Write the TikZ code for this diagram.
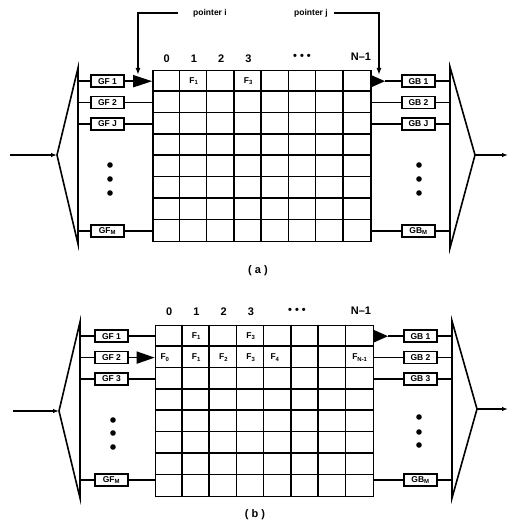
\documentclass[tikz,border=0pt]{standalone}
\usepackage{fontspec}
\setmainfont{Liberation Sans}
\usetikzlibrary{arrows.meta, positioning, calc}

\begin{document}
\begin{tikzpicture}[x=1pt, y=1pt,
        every node/.style={font=\bfseries\fontsize{8.5}{9}\selectfont},
        gbox/.style={rectangle, draw, line width=1.5pt, minimum width=33, minimum height=12, inner sep=0pt},
        slab/.style={font=\bfseries\fontsize{8.5}{9}\selectfont, inner sep=0pt},
        clab/.style={font=\bfseries\fontsize{11}{12}\selectfont, inner sep=0pt},
        memgrid/.style={rectangle, draw, line width=1.6pt, minimum width=218, minimum height=171, inner sep=0pt},
        cellline/.style={line width=1.5pt},
        link/.style={line width=1.6pt},
        arr/.style={-{Latex[length=6pt, width=4.5pt]}, line width=1.4pt},
        bigarr/.style={-{Triangle[length=#1, width=12pt]}, line width=1.6pt},
        bigarr/.default=19pt,
        ptr/.style={-{Latex[length=7pt, width=5pt]}, line width=1.5pt}
    ]
        \useasboundingbox (0,0) rectangle (517,524);

        % ---------- (a) ----------
        \node[memgrid] (ga) at (262,368) {};
        \foreach \k in {1,...,7} {
            \draw[cellline] ($(ga.north west)+(\k*27.25,0)$) -- ($(ga.south west)+(\k*27.25,0)$);
            \draw[cellline] ($(ga.north west)+(0,-\k*21.375)$) -- ($(ga.north east)+(0,-\k*21.375)$);
        }
        \node[clab] (ca0) at (166.6,465) {0};
        \node[clab] (ca1) at (193.9,465) {1};
        \node[clab] (ca2) at (221.1,465) {2};
        \node[clab] (ca3) at (248.4,465) {3};
        \node[clab] (cadots) at (302,467) {\textbullet\ \textbullet\ \textbullet};
        \node[clab] (caN) at (361,467) {N\textendash1};
        \node[slab] (fa1) at (193.9,442.8) {F\textsubscript{1}};
        \node[slab] (fa3) at (248.4,442.8) {F\textsubscript{3}};

        \node[gbox] (gfa1) at (107.5,442.8) {GF 1};
        \node[gbox] (gfa2) at (107.5,421.4) {GF 2};
        \node[gbox] (gfaj) at (107.5,400.1) {GF J};
        \node[gbox] (gfam) at (107.5,293.2) {GF\textsubscript{M}};
        \node[gbox] (gba1) at (418.5,442.8) {GB 1};
        \node[gbox] (gba2) at (418.5,421.4) {GB 2};
        \node[gbox] (gbaj) at (418.5,400.1) {GB J};
        \node[gbox] (gbam) at (418.5,293.2) {GB\textsubscript{M}};

        % input mux and output demux
        \coordinate (mxa) at (57,369);
        \coordinate (mxat) at (78,456);
        \coordinate (mxab) at (78,280);
        \draw[link] (mxa) -- (mxat) -- (mxab) -- cycle;
        \coordinate (ina) at (10,369);
        \draw[arr] (ina) -- (mxa);
        \coordinate (dxa) at (475,369);
        \coordinate (dxat) at (450,457);
        \coordinate (dxab) at (450,276);
        \draw[link] (dxa) -- (dxat) -- (dxab) -- cycle;
        \coordinate (outa) at (508,369);
        \draw[arr] (dxa) -- (outa);

        \foreach \b in {gfa1,gfa2,gfaj,gfam} \draw[link] (mxat |- \b) -- (\b);
        \foreach \b in {gba1,gba2,gbaj,gbam} \draw[link] (\b) -- (dxat |- \b);
        \draw[bigarr] (gfa1) -- (gfa1 -| ga.west);
        \foreach \b in {gfa2,gfaj,gfam} \draw[link] (\b) -- (\b -| ga.west);
        \coordinate (tipa) at (385,442.8);
        \draw[bigarr=14pt] (gba1 -| ga.east) -- (tipa);
        \draw[link] (tipa) -- (gba1);
        \foreach \b in {gba2,gbaj,gbam} \draw[link] (\b -| ga.east) -- (\b);

        \foreach \y in {359,345,331} {
            \fill (110,\y) circle (2.8);
            \fill (419,\y) circle (2.8);
        }

        % pointers
        \node[slab] (pti) at (210,511) {pointer i};
        \coordinate (ptia) at (138,449);
        \draw[ptr] ([xshift=-15pt]pti.west) -| (ptia);
        \node[slab] (ptj) at (311,511) {pointer j};
        \coordinate (ptja) at (379,449);
        \draw[ptr] ([xshift=6pt]ptj.east) -| (ptja);

        \node[clab] (capa) at (258,253) {( a )};

        % ---------- (b) ----------
        \node[memgrid] (gb) at (264.5,113) {};
        \foreach \k in {1,...,7} {
            \draw[cellline] ($(gb.north west)+(\k*27.25,0)$) -- ($(gb.south west)+(\k*27.25,0)$);
            \draw[cellline] ($(gb.north west)+(0,-\k*21.375)$) -- ($(gb.north east)+(0,-\k*21.375)$);
        }
        \node[clab] (cb0) at (169.1,212) {0};
        \node[clab] (cb1) at (196.4,212) {1};
        \node[clab] (cb2) at (223.6,212) {2};
        \node[clab] (cb3) at (250.9,212) {3};
        \node[clab] (cbdots) at (297,213) {\textbullet\ \textbullet\ \textbullet};
        \node[clab] (cbN) at (361,213) {N\textendash1};
        \node[slab] (fb1) at (196.4,187.8) {F\textsubscript{1}};
        \node[slab] (fb3) at (250.9,187.8) {F\textsubscript{3}};
        \node[slab] (fc0) at (165,166.4) {F\textsubscript{0}};
        \node[slab] (fc1) at (196.4,166.4) {F\textsubscript{1}};
        \node[slab] (fc2) at (223.6,166.4) {F\textsubscript{2}};
        \node[slab] (fc3) at (250.9,166.4) {F\textsubscript{3}};
        \node[slab] (fc4) at (275,166.4) {F\textsubscript{4}};
        \node[slab] (fcN) at (359.9,166.4) {F\textsubscript{N-1}};

        \node[gbox] (gfb1) at (111.5,187.8) {GF 1};
        \node[gbox] (gfb2) at (111.5,166.4) {GF 2};
        \node[gbox] (gfb3) at (111.5,145.1) {GF 3};
        \node[gbox] (gfbm) at (111.5,44) {GF\textsubscript{M}};
        \node[gbox] (gbb1) at (420.5,187.8) {GB 1};
        \node[gbox] (gbb2) at (420.5,166.4) {GB 2};
        \node[gbox] (gbb3) at (420.5,145.1) {GB 3};
        \node[gbox] (gbbm) at (420.5,44) {GB\textsubscript{M}};

        \coordinate (mxb) at (59,113);
        \coordinate (mxbt) at (80,202);
        \coordinate (mxbb) at (80,26);
        \draw[link] (mxb) -- (mxbt) -- (mxbb) -- cycle;
        \coordinate (inb) at (13,113);
        \draw[arr] (inb) -- (mxb);
        \coordinate (dxb) at (477,115);
        \coordinate (dxbt) at (452,203);
        \coordinate (dxbb) at (452,26);
        \draw[link] (dxb) -- (dxbt) -- (dxbb) -- cycle;
        \coordinate (outb) at (508,115);
        \draw[arr] (dxb) -- (outb);

        \foreach \b in {gfb1,gfb2,gfb3,gfbm} \draw[link] (mxbt |- \b) -- (\b);
        \foreach \b in {gbb1,gbb2,gbb3,gbbm} \draw[link] (\b) -- (dxbt |- \b);
        \draw[bigarr=18pt] (gfb2) -- (gfb2 -| gb.west);
        \foreach \b in {gfb1,gfb3,gfbm} \draw[link] (\b) -- (\b -| gb.west);
        \coordinate (tipb) at (388,187.8);
        \draw[bigarr=14pt] (gbb1 -| gb.east) -- (tipb);
        \draw[link] (tipb) -- (gbb1);
        \foreach \b in {gbb2,gbb3,gbbm} \draw[link] (\b -| gb.east) -- (\b);

        \foreach \y/\z in {104/107,91/92,77/79} {
            \fill (113,\y) circle (2.8);
            \fill (419,\z) circle (2.8);
        }

        \node[clab] (capb) at (255,9) {( b )};
    \end{tikzpicture}
\end{document}
